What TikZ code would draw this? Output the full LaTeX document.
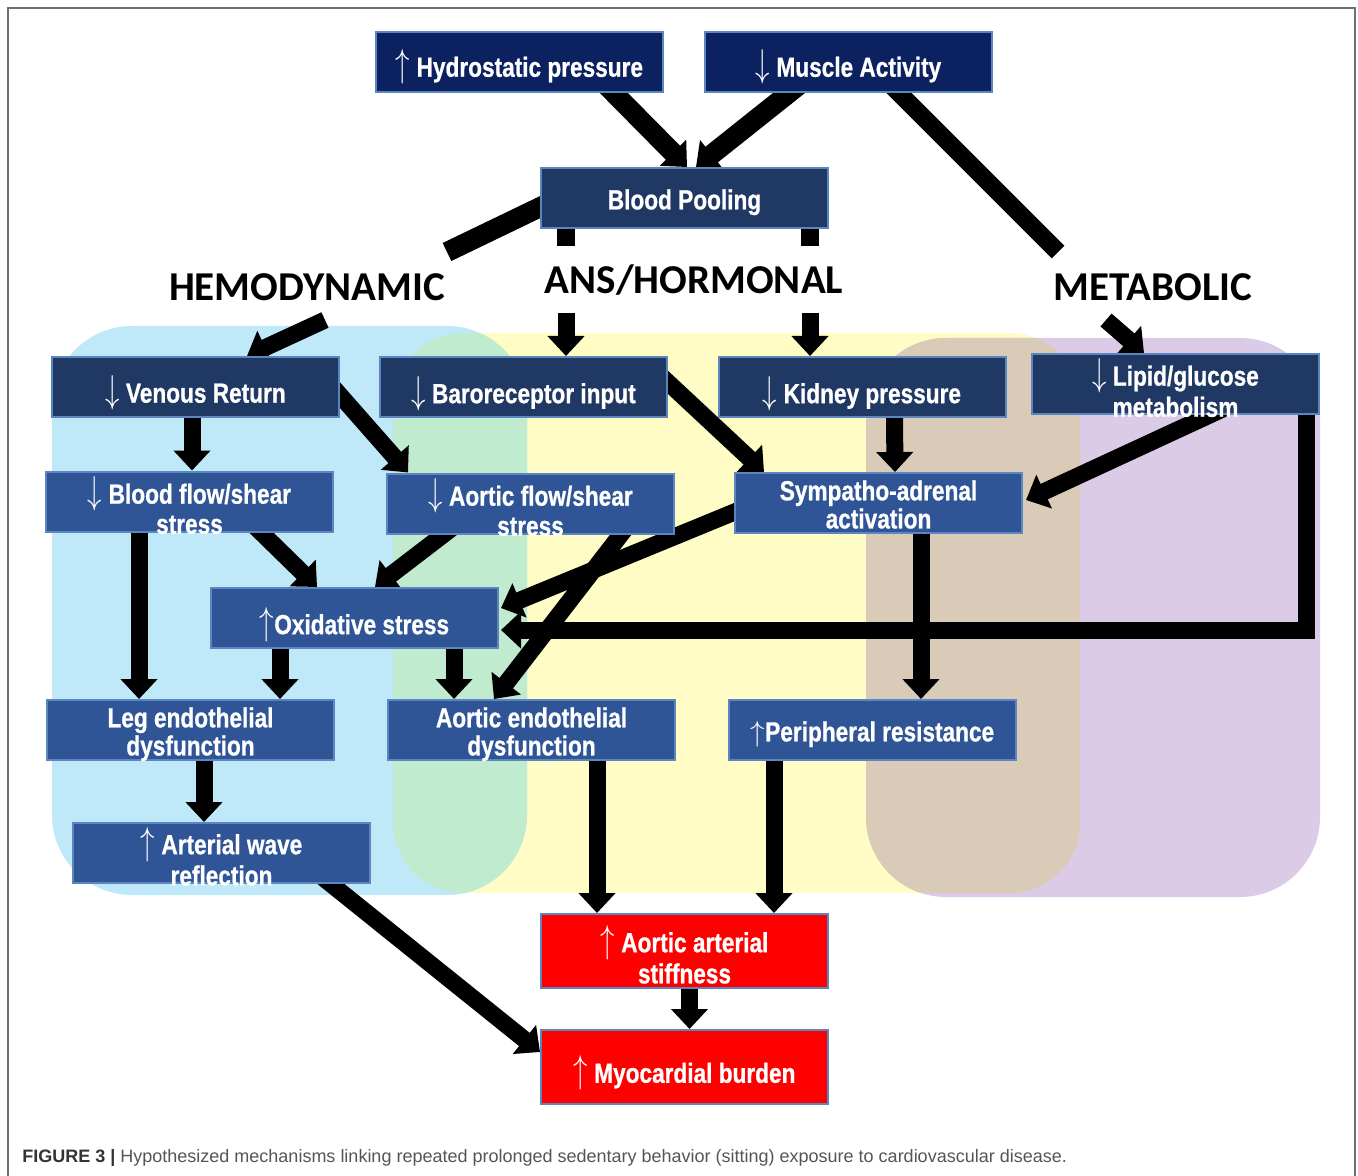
\documentclass[tikz,border=0pt]{standalone}
\usepackage{fontspec}
\usepackage{graphicx}
\setmainfont{Liberation Sans}
\newfontfamily\boxfont[FakeStretch=0.82,BoldFeatures={FakeBold=0.8}]{Liberation Sans}
\newfontfamily\headfont{Carlito}
\usetikzlibrary{arrows.meta,calc}

\definecolor{navytop}{HTML}{0B2160}
\definecolor{darkbox}{HTML}{203864}
\definecolor{midbox}{HTML}{2F5597}
\definecolor{alarm}{HTML}{FF0000}
\definecolor{boxline}{HTML}{5B86C0}
\definecolor{hemoblue}{HTML}{BFE8F8}
\definecolor{ansyellow}{HTML}{FFFDC5}
\definecolor{metabpurple}{HTML}{DBCBE6}
\definecolor{mixgreen}{HTML}{C0EBCF}
\definecolor{mixtan}{HTML}{DACBB8}
\definecolor{framegray}{HTML}{707070}
\definecolor{capdark}{HTML}{333333}
\definecolor{capgray}{HTML}{555555}

\pgfdeclarelayer{regions}
\pgfdeclarelayer{links}
\pgfsetlayers{regions,links,main}

\newcommand\uparr{\smash{\scalebox{1}[1.35]{$\uparrow$}}}
\newcommand\dnarr{\smash{\scalebox{1}[1.35]{$\downarrow$}}}
\newcommand\boxlabel[2][-6.3pt]{\smash{\raisebox{#1}{\begin{tabular}{@{}c@{}}#2\end{tabular}}}}

\tikzset{
  box/.style={draw=boxline, line width=1pt, fill=midbox, inner sep=0pt,
    minimum width=143.5pt, minimum height=30pt, text=white,
    font=\boxfont\bfseries\fontsize{13.8}{13.5}\selectfont},
  head/.style={inner sep=0pt, font=\headfont\bfseries\fontsize{20.5}{24}\selectfont},
  link/.style={line width=8.5pt, -{Triangle[width=18pt,length=10pt]}},
  bar/.style={line width=9pt}
}

\begin{document}
\begin{tikzpicture}[x=0.5pt,y=-0.5pt]
\useasboundingbox (0,0) rectangle (1358,1176);
\draw[framegray, line width=1pt] (8,1176) -- (8,8) -- (1355,8) -- (1355,1176);

% coloured regions
\begin{pgfonlayer}{regions}
\fill[ansyellow, rounded corners=35pt] (393,333) rectangle (1080,893);
\fill[hemoblue, rounded corners=40pt] (52,326) rectangle (527,895);
\fill[metabpurple, rounded corners=40pt] (866,338) rectangle (1320,897);
\begin{scope}
  \clip[rounded corners=40pt] (52,326) rectangle (527,895);
  \fill[mixgreen, rounded corners=35pt] (393,333) rectangle (1080,893);
\end{scope}
\begin{scope}
  \clip[rounded corners=40pt] (866,338) rectangle (1320,897);
  \fill[mixtan, rounded corners=35pt] (393,333) rectangle (1080,893);
\end{scope}
\end{pgfonlayer}

% boxes
\node[box, fill=navytop] (hydro) at (519.5,62) {\boxlabel[-8pt]{\uparr\ Hydrostatic pressure}};
\node[box, fill=navytop] (muscle) at (848.5,62) {\boxlabel[-8pt]{\dnarr\ Muscle Activity}};
\node[box, fill=darkbox] (pool) at (684.5,198) {\boxlabel{Blood Pooling}};
\node[box, fill=darkbox] (venous) at (195.5,387) {\boxlabel[-8.7pt]{\dnarr\ Venous Return}};
\node[box, fill=darkbox] (baro) at (523.5,387) {\boxlabel[-8.7pt]{\dnarr\ Baroreceptor input}};
\node[box, fill=darkbox] (kidney) at (862,387) {\boxlabel[-8.7pt]{\dnarr\ Kidney pressure}};
\node[box, fill=darkbox] (lipid) at (1175.5,384) {\boxlabel[-9.2pt]{\dnarr\ Lipid/glucose\\[1.5pt] metabolism}};
\node[box] (bflow) at (189.5,501.5) {\boxlabel[-9.2pt]{\dnarr\ Blood flow/shear\\[1.5pt] stress}};
\node[box] (aflow) at (530.5,503.5) {\boxlabel[-9.2pt]{\dnarr\ Aortic flow/shear\\[1.5pt] stress}};
\node[box] (symp) at (878.5,503) {\boxlabel{Sympatho-adrenal\\activation}};
\node[box] (oxid) at (354.5,618) {\boxlabel[-8.7pt]{\uparr Oxidative stress}};
\node[box] (leg) at (190.5,730) {\boxlabel{Leg endothelial\\dysfunction}};
\node[box] (aendo) at (531.5,730) {\boxlabel{Aortic endothelial\\dysfunction}};
\node[box] (periph) at (872.5,730) {\boxlabel{$\uparrow$Peripheral resistance}};
\node[box, minimum width=148.5pt] (wave) at (221.5,853) {\boxlabel[-9pt]{\uparr\ Arterial wave\\[1.5pt] reflection}};
\node[box, fill=alarm, minimum height=37pt] (stiff) at (684.5,951) {\boxlabel[-9pt]{\uparr\ Aortic arterial\\[1.5pt] stiffness}};
\node[box, fill=alarm, minimum height=37pt] (myo) at (684.5,1067) {\boxlabel[-8.5pt]{\uparr\ Myocardial burden}};

% headings
\node[head] (hemo) at (307,287) {HEMODYNAMIC};
\node[head] (ans) at (694,280) {ANS/HORMONAL};
\node[head] (metab) at (1153,287) {METABOLIC};
\path
(447,252) coordinate (hemoin)
(325,320) coordinate (hemoout)
(566,246) coordinate (ansinl)
(810,246) coordinate (ansinr)
(566,313) coordinate (ansoutl)
(810,313) coordinate (ansoutr)
(1058,252) coordinate (metabin)
(1106,320) coordinate (metabout)
;

\node[anchor=west, inner sep=0pt, font=\fontsize{9}{10}\selectfont] (caption) at (22,1158)
  {\textcolor{capdark}{\bfseries FIGURE 3 |} \textcolor{capgray}{Hypothesized mechanisms linking repeated prolonged sedentary behavior (sitting) exposure to cardiovascular disease.}};

% connectors
\begin{pgfonlayer}{links}
\draw[link, line width=10pt] ($(hydro.south west)+(229,-10)$) -- ($(pool.north west)+(147,0)$);
\draw[link, line width=10pt] ($(muscle.south west)+(95,-8)$) -- ($(pool.north west)+(156,0)$);
\draw[bar] ($(muscle.south west)+(185,-10)$) -- (metabin);
\draw[bar, line width=10pt] ($(pool.west)+(19,0)$) -- (hemoin);
\draw[bar] (ansinl |- pool.south) -- (ansinl) (ansinr |- pool.south) -- (ansinr);
\draw[link] (hemoout) -- ($(venous.north west)+(196,0)$);
\draw[link] (ansoutl) -- (ansoutl |- baro.north);
\draw[link] (ansoutr) -- (ansoutr |- kidney.north);
\draw[link] (metabout) -- ($(lipid.north west)+(113,0)$);

\draw[link] ($(venous.south west)+(141,0)$) -- ($(bflow.north west)+(147,0)$);
\draw[link] ($(venous.east)+(-9,-2)$) -- ($(aflow.north west)+(22,0)$);
\draw[link] ($(baro.east)+(-9,-13)$) -- ($(symp.north west)+(30,0)$);
\draw[link] ($(kidney.south west)+(177,0)$) -- ($(symp.north west)+(161,0)$);
\draw[link] ($(lipid.south west)+(196,-8)$) -- ($(symp.east)+(3,-3)$);
\draw[link] ($(lipid.south east)+(-14,0)$) |- ($(oxid.east)+(2,12)$);

\draw[link] ($(bflow.south west)+(94,0)$) -- ($(leg.north west)+(93,0)$);
\draw[link] ($(bflow.south west)+(206,-10)$) -- ($(oxid.north west)+(107,0)$);
\draw[link] ($(aflow.south west)+(68,-8)$) -- ($(oxid.north west)+(165,0)$);
\draw[link] ($(aflow.south west)+(241,-8)$) -- ($(aendo.north west)+(107,0)$);
\draw[link] ($(symp.west)+(20,1)$) -- ($(oxid.east)+(2,-10)$);
\draw[link] ($(symp.south west)+(187,0)$) -- ($(periph.north west)+(193,0)$);

\draw[link] ($(oxid.south west)+(70,0)$) -- ($(leg.north west)+(234,0)$);
\draw[link] ($(oxid.south west)+(244,0)$) -- ($(aendo.north west)+(67,0)$);
\draw[link] ($(leg.south west)+(158,0)$) -- ($(wave.north west)+(132,0)$);
\draw[link] ($(wave.south east)+(-50,-8)$) -- ($(myo.west)+(0,-15)$);
\draw[link] ($(aendo.south west)+(210,0)$) -- ($(stiff.north west)+(57,0)$);
\draw[link] ($(periph.south west)+(46,0)$) -- ($(stiff.north west)+(234,0)$);
\draw[link] ($(stiff.south)+(5,0)$) -- ($(myo.north)+(5,0)$);
\end{pgfonlayer}
\end{tikzpicture}
\end{document}
